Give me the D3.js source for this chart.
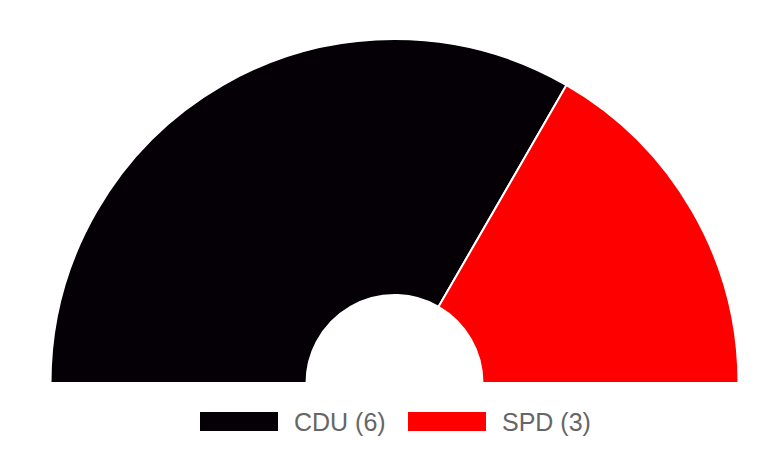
<!DOCTYPE html>
<html>
<head>
<meta charset="utf-8">
<script src="https://cdn.jsdelivr.net/npm/d3@7"></script>
<style>
  html, body { margin: 0; padding: 0; background: #fff; }
  svg { display: block; }
</style>
</head>
<body>
<div id="chart"></div>
<script>
// seat distribution
const parties = ["CDU", "SPD"];
const seats = [6, 3];
const partyColors = ["#040006", "#ff0000"];

const width = 780, height = 455;
const cx = 394.5, cy = 383;
const outerR = 344, innerR = 88;

const svg = d3.select("#chart")
  .append("svg")
  .attr("width", width)
  .attr("height", height);

const data = parties.map((p, i) => ({ party: p, seats: seats[i], color: partyColors[i] }));

// half donut, left to right
const pie = d3.pie()
  .sort(null)
  .value(d => d.seats)
  .startAngle(-Math.PI / 2)
  .endAngle(Math.PI / 2);

const arc = d3.arc()
  .innerRadius(innerR)
  .outerRadius(outerR);

svg.append("g")
  .attr("transform", "translate(" + cx + "," + cy + ")")
  .selectAll("path")
  .data(pie(data))
  .join("path")
  .attr("d", arc)
  .attr("fill", d => d.data.color)
  .attr("stroke", "#fff")
  .attr("stroke-width", 2);

// legend
const legendX = d3.scalePoint()
  .domain(parties)
  .range([200, 408]);

const item = svg.append("g")
  .selectAll("g")
  .data(data)
  .join("g")
  .attr("transform", d => "translate(" + legendX(d.party) + ",412)");

item.append("rect")
  .attr("width", 78)
  .attr("height", 19)
  .attr("fill", d => d.color);

item.append("text")
  .attr("x", 94)
  .attr("y", 10)
  .attr("dy", "0.35em")
  .attr("fill", "#666")
  .style("font-family", "Arial, 'Liberation Sans', sans-serif")
  .style("font-size", "25px")
  .text(d => d.party + " (" + d.seats + ")");
</script>
</body>
</html>
